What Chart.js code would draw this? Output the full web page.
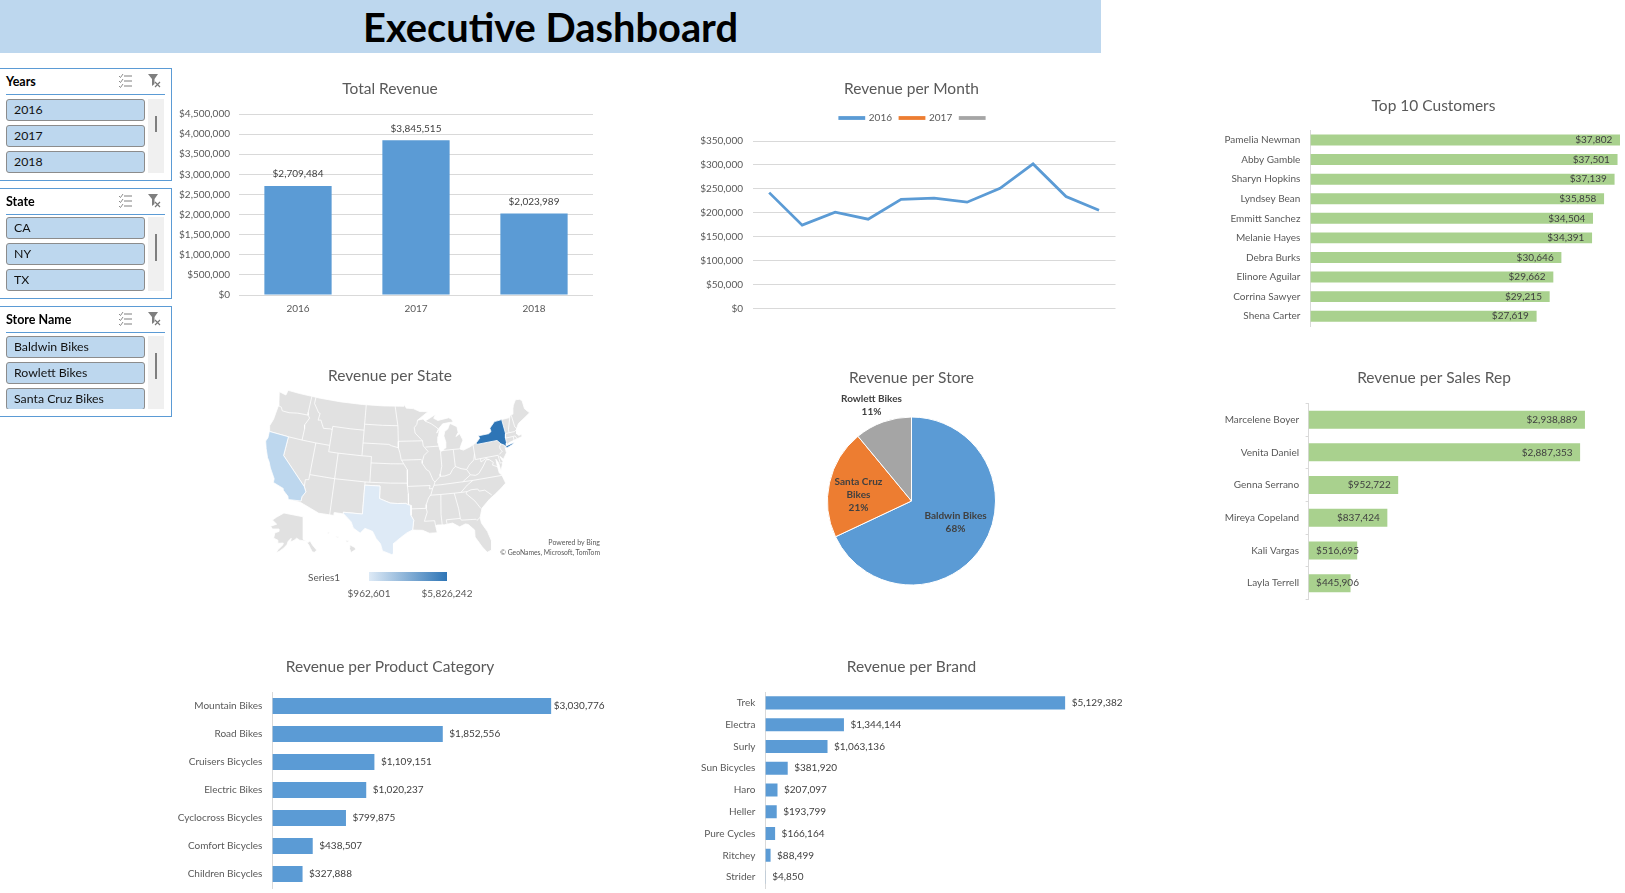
<!DOCTYPE html>
<html>
<head>
<meta charset="utf-8">
<title>Executive Dashboard</title>
<script src="https://cdn.jsdelivr.net/npm/chart.js@4"></script>
<style>
html, body { margin: 0; padding: 0; background: #fff; overflow: hidden; width: 1625px; height: 893px; font-family: Lato, sans-serif; }
canvas { position: absolute; }
#header { position: absolute; left: 0; top: 0; width: 1101px; height: 53px; background: #BDD7EE; color: #000; font-weight: bold; font-size: 39.8px; line-height: 54px; text-align: center; }
.slicer { position: absolute; left: -2px; width: 172px; border: 1.5px solid #5B9BD5; background: #fff; overflow: hidden; }
.slicer .head { position: absolute; left: 7px; top: 5px; font-weight: bold; font-size: 12.5px; color: #000; }
.slicer .rule { position: absolute; left: 7px; width: 159px; height: 1px; background: #5B9BD5; }
.slicer .btn { position: absolute; left: 7px; height: 20px; background: #BDD7EE; border: 1px solid #8C8C8C; border-radius: 3px; font-size: 12.3px; line-height: 20px; padding-left: 7px; width: 130px; color: #111; }
.slicer .track { position: absolute; left: 149px; width: 16px; background: #F0F0F0; }
.slicer .thumb { position: absolute; left: 156px; width: 2px; background: #7F7F7F; }
.slicer svg { position: absolute; top: 4px; }
.slicer .cut { position: absolute; left: 0; width: 172px; background: #fff; }
.note { position: absolute; color: #595959; white-space: nowrap; }
#ramp { position: absolute; left: 369px; top: 572px; width: 78px; height: 9px; background: linear-gradient(to right, #DEEAF6, #2E75B6); }
</style>
</head>
<body>
<div id="header">Executive Dashboard</div>

<canvas id="totalChart" style="left:170px;top:70px" width="440" height="251"></canvas>
<canvas id="monthChart" style="left:690px;top:70px" width="443" height="254"></canvas>
<canvas id="customerChart" style="left:1200px;top:90px" width="467" height="252"></canvas>
<canvas id="mapChart" style="left:180px;top:360px" width="420" height="210"></canvas>
<canvas id="storeChart" style="left:700px;top:360px" width="423" height="242"></canvas>
<canvas id="repChart" style="left:1200px;top:360px" width="468" height="252"></canvas>
<canvas id="categoryChart" style="left:150px;top:650px" width="480" height="254"></canvas>
<canvas id="brandChart" style="left:680px;top:650px" width="463" height="254"></canvas>

<div class="note" style="left:500px;top:538px;width:100px;text-align:right;font-size:7px">Powered by Bing</div>
<div class="note" style="left:480px;top:548px;width:120px;text-align:right;font-size:6.8px">© GeoNames, Microsoft, TomTom</div>
<div class="note" style="left:308px;top:571px;font-size:10px">Series1</div>
<div id="ramp"></div>
<div class="note" style="left:329px;top:587px;width:80px;text-align:center;font-size:10px">$962,601</div>
<div class="note" style="left:407px;top:587px;width:80px;text-align:center;font-size:10px">$5,826,242</div>

<script>
// values
const years = ['2016', '2017', '2018'];
const yearRevenue = [2709484, 3845515, 2023989];

const months = ['Jan', 'Feb', 'Mar', 'Apr', 'May', 'Jun', 'Jul', 'Aug', 'Sep', 'Oct', 'Nov'];
const revenue2016 = [242000, 174000, 201000, 186500, 228000, 230500, 222000, 251000, 302000, 234000, 205000];
const revenue2017 = [];
const revenueBlank = [];

const customers = ['Pamelia Newman', 'Abby Gamble', 'Sharyn Hopkins', 'Lyndsey Bean', 'Emmitt Sanchez', 'Melanie Hayes', 'Debra Burks', 'Elinore Aguilar', 'Corrina Sawyer', 'Shena Carter'];
const customerRevenue = [37802, 37501, 37139, 35858, 34504, 34391, 30646, 29662, 29215, 27619];

const stores = ['Baldwin Bikes', 'Santa Cruz Bikes', 'Rowlett Bikes'];
const storeShare = [68, 21, 11];

const reps = ['Marcelene Boyer', 'Venita Daniel', 'Genna Serrano', 'Mireya Copeland', 'Kali Vargas', 'Layla Terrell'];
const repRevenue = [2938889, 2887353, 952722, 837424, 516695, 445906];

const categories = ['Mountain Bikes', 'Road Bikes', 'Cruisers Bicycles', 'Electric Bikes', 'Cyclocross Bicycles', 'Comfort Bicycles', 'Children Bicycles'];
const categoryRevenue = [3030776, 1852556, 1109151, 1020237, 799875, 438507, 327888];

const brands = ['Trek', 'Electra', 'Surly', 'Sun Bicycles', 'Haro', 'Heller', 'Pure Cycles', 'Ritchey', 'Strider'];
const brandRevenue = [5129382, 1344144, 1063136, 381920, 207097, 193799, 166164, 88499, 4850];

const yearOptions = ['2016', '2017', '2018'];
const stateOptions = ['CA', 'NY', 'TX'];
const storeOptions = ['Baldwin Bikes', 'Rowlett Bikes', 'Santa Cruz Bikes'];

// state shapes as [lon, lat]
const usOutline = [[-124.7,48.4],[-123,48.2],[-122.8,49],[-120,49],[-115,49],[-110,49],[-105,49],[-100,49],[-95.15,49],[-95.15,49.38],[-94.6,48.7],[-93,48.6],[-91.5,48.1],[-89.6,48],[-92.1,46.75],[-90.8,46.9],[-90.4,46.55],[-88.4,47.3],[-87.9,47.45],[-88.4,46.9],[-87.5,46.5],[-85,46.75],[-84.4,46.5],[-84.1,46],[-85,46],[-86.5,45.9],[-87.6,45.1],[-88,44.55],[-87.3,45.2],[-87.7,44],[-87.9,43],[-87.6,41.8],[-87.2,41.65],[-86.5,42.1],[-86.2,43],[-86.5,44],[-86.2,44.7],[-85.5,45],[-85,45.7],[-84.7,45.78],[-83.4,45.2],[-83.3,44.3],[-83.9,43.7],[-83,44.05],[-82.5,43],[-83.1,42.2],[-83.4,41.7],[-82.7,41.45],[-81.2,41.8],[-79.8,42.3],[-78.9,42.85],[-79.05,43.27],[-76.8,43.3],[-76.2,43.55],[-76.3,44.1],[-75,44.95],[-74.7,45],[-71.5,45],[-71.3,45.3],[-70.8,45.4],[-70.3,46.2],[-70,46.7],[-69.2,47.45],[-68.3,47.35],[-67.8,47.05],[-67.8,45.7],[-67,44.85],[-68.5,44.3],[-70,43.75],[-70.7,43.05],[-70.8,42.6],[-71,42.3],[-70.6,41.95],[-70,42],[-70,41.65],[-71.2,41.5],[-72.9,41.25],[-73.7,40.95],[-74,40.6],[-74,39.8],[-74.9,38.95],[-75.5,39.5],[-75.1,38.6],[-75.9,37.2],[-76,38.5],[-76.4,39.2],[-76.4,38.2],[-76.3,37],[-75.9,36.6],[-75.5,35.25],[-76.5,34.65],[-77.9,33.9],[-79.1,33.3],[-80.8,32.1],[-81.4,30.7],[-81.3,29.8],[-80.5,28.4],[-80.05,26.8],[-80.3,25.4],[-81.1,25.15],[-81.8,26.1],[-82.8,27.8],[-82.7,28.9],[-83.7,29.9],[-84.2,30.05],[-85.3,29.7],[-86.5,30.4],[-88,30.25],[-89.4,30.3],[-89.6,30.15],[-89.4,29.1],[-90.8,29.1],[-92,29.6],[-93.8,29.7],[-94.8,29.3],[-96,28.5],[-97.2,27.6],[-97.2,26],[-97.5,25.85],[-99.1,26.4],[-99.5,27.5],[-100.3,28.3],[-101,29.4],[-102.4,29.8],[-103.2,29],[-104.5,29.7],[-105,30.65],[-106.5,31.75],[-108.2,31.78],[-108.2,31.33],[-111.07,31.33],[-114.8,32.5],[-117.1,32.53],[-117.3,33],[-118.4,33.75],[-118.5,34.03],[-120.6,34.55],[-120.65,35.15],[-121.9,36.6],[-122.5,37.5],[-123,38],[-123.8,39.3],[-124.35,40.4],[-124.1,41],[-124.2,42],[-124.5,42.85],[-124.1,44],[-123.95,46.2],[-124.1,46.9],[-124.7,48.4]];
const caShape = [[-124.2,42],[-120,42],[-120,39],[-114.63,35],[-114.15,34.25],[-114.7,33.4],[-114.72,32.72],[-117.1,32.53],[-117.3,33],[-118.4,33.75],[-118.5,34.03],[-120.6,34.55],[-120.65,35.15],[-121.9,36.6],[-122.5,37.5],[-123,38],[-123.8,39.3],[-124.35,40.4],[-124.1,41],[-124.2,42]];
const txShape = [[-103,36.5],[-100,36.5],[-100,34.56],[-99.2,34.3],[-97.9,33.9],[-96.6,33.85],[-95,33.87],[-94.48,33.64],[-94.04,33.55],[-94.04,32],[-93.55,31.2],[-93.8,29.7],[-94.8,29.3],[-96,28.5],[-97.2,27.6],[-97.2,26],[-97.5,25.85],[-99.1,26.4],[-99.5,27.5],[-100.3,28.3],[-101,29.4],[-102.4,29.8],[-103.2,29],[-104.5,29.7],[-105,30.65],[-106.5,31.75],[-106.6,32],[-103.05,32],[-103,36.5]];
const nyShape = [[-79.76,42.27],[-78.9,42.85],[-79.05,43.27],[-76.8,43.3],[-76.2,43.55],[-76.3,44.1],[-75,44.95],[-73.35,45],[-73.25,42.75],[-73.5,42.05],[-73.5,41.3],[-73.65,41],[-74,40.7],[-74,41],[-74.7,41.36],[-75.35,42],[-79.76,42],[-79.76,42.27]];
const longIsland = [[-74,40.6],[-73.75,40.85],[-72.6,41],[-71.9,41.07],[-72.5,40.8],[-73.5,40.58],[-74,40.6]];
const stateLines = [
  [[-124,46.25],[-123.2,46.15],[-122.8,45.65],[-121.2,45.65],[-119.3,45.93],[-116.92,46]],
  [[-117.03,49],[-117.04,46.42],[-116.92,46],[-116.46,45.6],[-117.2,44.4],[-117.03,43.8],[-117.03,42]],
  [[-124.2,42],[-120,42],[-117.03,42],[-114.04,42],[-111.05,42]],
  [[-120,42],[-120,39],[-114.63,35]],
  [[-114.63,35],[-114.15,34.25],[-114.7,33.4],[-114.72,32.72]],
  [[-114.04,42],[-114.04,37],[-114.05,36.2],[-114.7,36.1],[-114.63,35]],
  [[-114.04,37],[-109.05,37],[-103,37],[-102.04,37],[-98,37],[-94.62,37]],
  [[-109.05,41],[-109.05,37],[-109.05,31.33]],
  [[-111.05,42],[-111.05,41],[-109.05,41],[-104.05,41],[-102.05,41],[-102.05,37]],
  [[-111.05,45],[-107,45],[-104.05,45]],
  [[-104.05,49],[-104.05,45],[-104.05,41]],
  [[-116.05,49],[-116.05,48],[-114.7,46.7],[-114.35,46.65],[-114.5,45.55],[-113.9,45.65],[-113.45,45.05],[-113,44.45],[-111.5,44.55],[-111.05,44.5]],
  [[-111.05,45],[-111.05,42]],
  [[-104.05,45.94],[-100,45.94],[-96.56,45.94]],
  [[-104.05,43],[-98.5,43],[-97.9,42.8],[-96.45,42.5]],
  [[-102.05,40],[-98,40],[-95.3,40]],
  [[-103,37],[-103,36.5],[-100,36.5],[-100,34.56],[-99.2,34.3],[-97.9,33.9],[-96.6,33.85],[-95,33.87],[-94.48,33.64],[-94.04,33.55],[-94.04,32],[-93.55,31.2],[-93.8,29.7]],
  [[-103,36.5],[-103.05,32],[-106.6,32],[-106.5,31.75]],
  [[-97.23,49],[-96.8,47],[-96.56,45.94],[-96.45,43.5],[-96.45,42.5],[-96.1,41.7],[-95.85,40.7],[-95.3,40],[-94.62,39.1],[-94.62,36.5],[-94.48,35.4],[-94.48,33.64]],
  [[-96.45,43.5],[-91.22,43.5]],
  [[-95.77,40.58],[-91.73,40.6],[-91.42,40.38]],
  [[-92.1,46.75],[-92.3,46.1],[-92.9,45.6],[-92.75,44.75],[-91.22,43.5],[-91.1,42.7],[-90.15,41.8],[-91.05,41.2],[-91.42,40.38],[-91.5,40],[-90.7,39],[-90.15,38.7],[-89.5,37.3],[-89.15,37],[-89.4,36.5],[-89.7,36],[-90.1,35.1],[-90.6,34.6],[-91.1,33.6],[-91.15,33],[-91,32.4],[-91.6,31],[-89.73,31],[-89.6,30.15]],
  [[-94.04,33],[-91.15,33]],
  [[-94.62,36.5],[-90.15,36.5],[-90.35,36],[-89.7,36]],
  [[-90.65,42.5],[-87.8,42.5]],
  [[-90.4,46.55],[-89.1,46.1],[-87.8,45.35],[-87.6,45.1]],
  [[-87.53,41.7],[-87.53,39.35],[-87.95,38.2],[-88.05,37.8]],
  [[-89.15,37],[-88.05,37.8],[-87.1,37.8],[-86,38],[-85.4,38.7],[-84.8,39.1],[-83.7,38.65],[-82.6,38.4],[-82,39],[-81.7,39.2],[-80.87,39.7],[-80.52,40.64]],
  [[-87.2,41.76],[-84.8,41.76],[-83.45,41.72]],
  [[-84.8,41.76],[-84.8,39.1]],
  [[-80.52,42],[-80.52,39.72],[-75.79,39.72]],
  [[-74.7,41.36],[-75.1,41],[-75.1,40.6],[-74.75,40.2],[-75.5,39.8]],
  [[-89.4,36.5],[-88.05,36.5],[-83.68,36.6],[-81.68,36.59],[-75.9,36.55]],
  [[-83.68,36.6],[-82,37.5],[-82.6,38.4]],
  [[-82,37.5],[-81,37.3],[-80.3,37.5],[-79.2,38.5],[-78.35,39.4],[-77.72,39.32]],
  [[-79.48,39.72],[-79.48,39.2],[-78.4,39.6],[-77.72,39.32],[-77.05,38.8],[-77.3,38.4],[-76.3,37.95]],
  [[-75.79,39.72],[-75.7,38.46],[-75.05,38.45]],
  [[-90.3,35],[-88.2,35],[-85.6,35],[-84.3,35],[-83.1,35]],
  [[-84.3,35],[-82.9,36],[-81.68,36.59]],
  [[-88.2,35],[-88.47,31.9],[-88.4,30.25]],
  [[-85.6,35],[-85.1,32.5],[-85,31],[-84.85,30.7],[-82.2,30.55],[-82.05,30.35],[-81.45,30.7]],
  [[-87.6,31],[-85,31]],
  [[-87.6,31],[-87.5,30.3]],
  [[-83.1,35],[-83.35,34.7],[-81.9,33.4],[-81,32.1]],
  [[-83.1,35],[-82.3,35.2],[-81,35.15],[-80.8,34.8],[-79.7,34.8],[-78.55,33.87]],
  [[-71.5,45],[-72.45,43.2],[-72.46,42.73]],
  [[-71.05,45.3],[-70.97,43.4],[-70.7,43.08]],
  [[-73.27,42.75],[-71.3,42.7],[-70.85,42.87]],
  [[-73.5,42.05],[-71.8,42.02],[-71.38,42.02],[-71.15,41.5]],
  [[-71.8,42.02],[-71.85,41.32]]
];
const alaskaShape = [[-141,69.6],[-141,60.3],[-139.5,59.9],[-137.5,58.9],[-135.5,59.7],[-133.5,58],[-130,55.9],[-131.5,55],[-133.5,55.1],[-135,56.5],[-136.5,58],[-139,59.6],[-144,60],[-146.5,60.8],[-148.5,60],[-151.5,59.2],[-151,60.8],[-153.5,59.5],[-154.5,58.2],[-157,56.8],[-160.5,55.5],[-163.5,54.7],[-162,56],[-158,58],[-157.5,58.8],[-162,58.7],[-162,60],[-165.5,60.8],[-164.5,63],[-161,63.6],[-161,64.6],[-166.5,64.6],[-168,65.7],[-163,66.6],[-166.5,68.3],[-163,69.5],[-157,71.2],[-150,70.5],[-141,69.6]];
const hawaiiShapes = [
  [[-155.9,20.2],[-155.1,19.8],[-154.9,19.5],[-155.7,19],[-156,19.7],[-155.9,20.2]],
  [[-156.7,20.95],[-156,20.8],[-156.4,20.6],[-156.7,20.95]],
  [[-158.3,21.6],[-157.7,21.45],[-158,21.3],[-158.3,21.6]],
  [[-159.75,22.1],[-159.35,22.2],[-159.4,21.9],[-159.75,22.1]]
];

const BLUE = '#5B9BD5';
const GREEN = '#A9D18E';
const GREY_TEXT = '#595959';
const GRID = '#D9D9D9';

Chart.defaults.font.family = 'Lato';
Chart.defaults.font.size = 10;
Chart.defaults.color = GREY_TEXT;
Chart.defaults.animation = false;
Chart.defaults.responsive = false;
Chart.defaults.plugins.legend.display = false;
Chart.defaults.plugins.tooltip.enabled = false;

const money = v => '$' + v.toLocaleString('en-US');

// title block sized so the plot starts at plotTop
function titleBlock(text, canvasTop, centerY, plotTop) {
    const size = 15.5, lh = size * 1.2;
    return {
        display: true, text: text, color: GREY_TEXT,
        font: { size: size, weight: 'normal' },
        padding: { top: centerY - canvasTop - lh / 2, bottom: plotTop - centerY - lh / 2 }
    };
}

const fixWidth = w => scale => { scale.width = w; };

// right padding would push the title off centre, so put it back
Chart.register({
    id: 'recenter',
    afterLayout(chart) {
        if (chart.titleBlock) { chart.titleBlock.left = 0; chart.titleBlock.right = chart.width; }
        if (chart.legend) { chart.legend.left = 6; chart.legend.right = chart.width; }
    }
});

// Excel style data labels
const barLabels = {
    id: 'barLabels',
    afterDatasetsDraw(chart, args, opts) {
        const ctx = chart.ctx;
        const values = chart.data.datasets[0].data;
        const left = chart.chartArea.left;
        ctx.save();
        ctx.fillStyle = '#404040';
        ctx.font = '10px Lato';
        ctx.textBaseline = 'middle';
        chart.getDatasetMeta(0).data.forEach((bar, i) => {
            const text = money(values[i]);
            if (opts.mode === 'above') {
                ctx.textAlign = 'center';
                ctx.fillText(text, bar.x, bar.y - 12);
            } else if (opts.mode === 'outside') {
                ctx.textAlign = 'left';
                ctx.fillText(text, bar.x + (i === 0 && opts.firstGap ? opts.firstGap : opts.gap), bar.y);
            } else {
                ctx.textAlign = 'left';
                const w = ctx.measureText(text).width;
                ctx.fillText(text, Math.max(bar.x - opts.gap - w, left + opts.gap), bar.y);
            }
        });
        ctx.restore();
    }
};

const pieLabels = {
    id: 'pieLabels',
    afterDatasetsDraw(chart, args, opts) {
        const ctx = chart.ctx;
        const arc = chart.getDatasetMeta(0).data[0];
        ctx.save();
        ctx.fillStyle = '#404040';
        ctx.font = 'bold 10px Lato';
        ctx.textAlign = 'center';
        ctx.textBaseline = 'middle';
        opts.places.forEach((place, i) => {
            const lines = place.lines.concat(chart.data.datasets[0].data[i] + '%');
            const top = arc.y + place.dy - (lines.length - 1) * 6.5;
            lines.forEach((line, n) => ctx.fillText(line, arc.x + place.dx, top + n * 13));
        });
        ctx.restore();
    }
};

// leaves room under the legend, as the Excel chart does
const legendGap = {
    id: 'legendGap',
    beforeInit(chart) {
        const fit = chart.legend.fit;
        chart.legend.fit = function () {
            fit.call(this);
            this.height += chart.options.plugins.legendGap.extra;
        };
    }
};

function hBar(id, canvasTop, axisWidth, pad, titleText, titleY, plotTop, labels, values, color, max, thickness, labelOpts, showTicks) {
    new Chart(document.getElementById(id), {
        type: 'bar',
        plugins: [barLabels],
        data: { labels: labels, datasets: [{ data: values, backgroundColor: color, categoryPercentage: thickness, barPercentage: 1 }] },
        options: {
            indexAxis: 'y',
            layout: { padding: { right: pad } },
            scales: {
                x: { display: false, min: 0, max: max },
                y: {
                    afterFit: fixWidth(axisWidth),
                    grid: { drawOnChartArea: false, color: GRID, offset: true, drawTicks: !!showTicks, tickLength: 3 },
                    border: { color: GRID },
                    ticks: { padding: showTicks ? 6.5 : 10, color: GREY_TEXT, autoSkip: false }
                }
            },
            plugins: { title: titleBlock(titleText, canvasTop, titleY, plotTop), barLabels: labelOpts }
        }
    });
}

document.addEventListener('DOMContentLoaded', function () {
    new Chart(document.getElementById('totalChart'), {
        type: 'bar',
        plugins: [barLabels],
        data: { labels: years, datasets: [{ data: yearRevenue, backgroundColor: BLUE, categoryPercentage: 0.57, barPercentage: 1 }] },
        options: {
            layout: { padding: { right: 17 } },
            scales: {
                x: {
                    afterFit: s => { s.height = 26; },
                    grid: { display: false, drawTicks: false }, border: { display: false },
                    ticks: { padding: 8 }
                },
                y: {
                    afterFit: fixWidth(69), min: 0, max: 4500000,
                    grid: { color: GRID, drawTicks: false }, border: { display: false },
                    ticks: { stepSize: 500000, padding: 9, callback: money }
                }
            },
            plugins: { title: titleBlock('Total Revenue', 70, 88.7, 114), barLabels: { mode: 'above' } }
        }
    });

    new Chart(document.getElementById('monthChart'), {
        type: 'line',
        plugins: [legendGap],
        data: {
            labels: months,
            datasets: [
                { label: '2016', data: revenue2016, borderColor: BLUE, backgroundColor: BLUE, borderWidth: 2.8, pointRadius: 0, tension: 0 },
                { label: '2017', data: revenue2017, borderColor: '#ED7D31', backgroundColor: '#ED7D31', borderWidth: 2.8, pointRadius: 0 },
                { label: '', data: revenueBlank, borderColor: '#A5A5A5', backgroundColor: '#A5A5A5', borderWidth: 2.8, pointRadius: 0 }
            ]
        },
        options: {
            layout: { padding: { right: 17.5, bottom: 8 } },
            scales: {
                x: { display: false, offset: true },
                y: {
                    afterFit: fixWidth(62.7), min: 0, max: 350000,
                    grid: { color: GRID, drawTicks: false }, border: { display: false },
                    ticks: { stepSize: 50000, padding: 9.7, callback: money }
                }
            },
            plugins: {
                title: titleBlock('Revenue per Month', 70, 88.7, 105),
                legendGap: { extra: 8 },
                legend: { display: true, position: 'top', labels: { boxWidth: 24, boxHeight: 1, padding: 8, font: { size: 10 } } }
            }
        }
    });

    hBar('customerChart', 90, 110.4, 29, 'Top 10 Customers', 105.7, 130.2, customers, customerRevenue, GREEN, 40000, 0.56, { mode: 'inside', gap: 7.7 });
    hBar('repChart', 360, 108.6, 77.3, 'Revenue per Sales Rep', 378, 403.3, reps, repRevenue, GREEN, 3000000, 0.55, { mode: 'inside', gap: 7.5 }, true);
    hBar('categoryChart', 650, 122.4, 35.7, 'Revenue per Product Category', 667.2, 692, categories, categoryRevenue, BLUE, 3500000, 0.57, { mode: 'outside', gap: 6.5, firstGap: 2.5 });
    hBar('brandChart', 650, 85.4, 27, 'Revenue per Brand', 667.2, 692, brands, brandRevenue, BLUE, 6000000, 0.6, { mode: 'outside', gap: 6.5 });

    new Chart(document.getElementById('storeChart'), {
        type: 'pie',
        plugins: [pieLabels],
        data: { labels: stores, datasets: [{ data: storeShare, backgroundColor: [BLUE, '#ED7D31', '#A5A5A5'], borderColor: '#fff', borderWidth: 1, radius: 84 }] },
        options: {
            plugins: {
                title: titleBlock('Revenue per Store', 360, 378, 400),
                pieLabels: {
                    places: [
                        { lines: ['Baldwin Bikes'], dx: 44, dy: 21 },
                        { lines: ['Santa Cruz', 'Bikes'], dx: -53, dy: -6 },
                        { lines: ['Rowlett Bikes'], dx: -40, dy: -95.5 }
                    ]
                }
            }
        }
    });

    // Albers equal area, the projection the map appears to use
    const rad = Math.PI / 180;
    const n = (Math.sin(29.5 * rad) + Math.sin(45.5 * rad)) / 2;
    const C = Math.cos(29.5 * rad) ** 2 + 2 * n * Math.sin(29.5 * rad);
    const rho0 = 6371 * Math.sqrt(C - 2 * n * Math.sin(37.5 * rad)) / n;
    const albers = ([lon, lat]) => {
        const rho = 6371 * Math.sqrt(C - 2 * n * Math.sin(lat * rad)) / n;
        const theta = n * (lon + 96) * rad;
        return { x: rho * Math.sin(theta), y: rho0 - rho * Math.cos(theta) };
    };
    const inset = (lon0, lat0, cosLat, scale, ox, oy) => ([lon, lat]) => ({
        x: ox + (lon - lon0) * cosLat * 111 * scale,
        y: oy + (lat - lat0) * 111 * scale
    });
    const alaska = inset(-152, 63, 0.5, 0.38, -1921, -920);
    const hawaii = inset(-155.5, 19.6, 0.94, 1, -837, -1195);
    const shape = (points, project, fill, order) => ({
        data: points.map(project), showLine: true, fill: 'shape', backgroundColor: fill,
        borderColor: '#fff', borderWidth: 0.8, pointRadius: 0, tension: 0, order: order, clip: false
    });
    const border = points => ({
        data: points.map(albers), showLine: true, fill: false,
        borderColor: '#fff', borderWidth: 0.8, pointRadius: 0, tension: 0, order: 2, clip: false
    });

    const KM_PER_PX = 17.4;
    const xLeft = -3835, yTop = 1653;
    new Chart(document.getElementById('mapChart'), {
        type: 'scatter',
        data: {
            datasets: [
                shape(nyShape, albers, '#2E75B6', 0),
                shape(longIsland, albers, '#2E75B6', 0),
                shape(caShape, albers, '#BDD7EE', 1),
                shape(txShape, albers, '#DEEAF6', 1)
            ].concat(stateLines.map(border), [
                shape(usOutline, albers, '#E1E1E1', 3),
                shape(alaskaShape, alaska, '#E1E1E1', 3)
            ], hawaiiShapes.map(s => shape(s, hawaii, '#E1E1E1', 3)))
        },
        options: {
            scales: {
                x: { display: false, min: xLeft, max: xLeft + 420 * KM_PER_PX },
                y: { display: false, max: yTop, min: yTop - 185 * KM_PER_PX }
            },
            plugins: { title: titleBlock('Revenue per State', 360, 376, 385) }
        }
    });

    // slicers down the left side
    buildSlicer('Years', yearOptions, 68, 111, 30, 47, 16, true);
    buildSlicer('State', stateOptions, 188, 109, 28, 45, 27, false);
    buildSlicer('Store Name', storeOptions, 306, 109, 29, 46, 26, true);
});

const iconList = '<svg style="left:119px" width="15" height="16" viewBox="0 0 15 16" stroke="#7F7F7F" fill="none"><path d="M6 3h8M6 8h8M6 13h8"/><path stroke-width="0.9" d="M1 3l1.5 1.5L5 1M1 8l1.5 1.5L5 6M1 13l1.5 1.5L5 11"/></svg>';
const iconClear = '<svg style="left:148px" width="15" height="16" viewBox="0 0 15 16"><path fill="#7F7F7F" d="M1 1h10L7.5 6v5L5 13V6z"/><path stroke="#777" stroke-width="1.2" d="M8 9l5 5M13 9l-5 5"/></svg>';

function buildSlicer(title, options, top, height, btnTop, thumbTop, thumbHeight, clipped) {
    const box = document.createElement('div');
    box.className = 'slicer';
    box.style.top = top + 'px';
    box.style.height = height + 'px';
    let html = '<div class="head">' + title + '</div>' + iconList + iconClear +
        '<div class="rule" style="top:25px"></div>' +
        '<div class="track" style="top:' + btnTop + 'px;height:' + (height - btnTop - 7) + 'px"></div>' +
        '<div class="thumb" style="top:' + thumbTop + 'px;height:' + thumbHeight + 'px"></div>';
    options.forEach((o, i) => {
        html += '<div class="btn" style="top:' + (btnTop + i * 26) + 'px">' + o + '</div>';
    });
    if (clipped) html += '<div class="cut" style="top:' + (height - 7) + 'px;height:7px"></div>';
    box.innerHTML = html;
    document.body.appendChild(box);
}
</script>
</body>
</html>
